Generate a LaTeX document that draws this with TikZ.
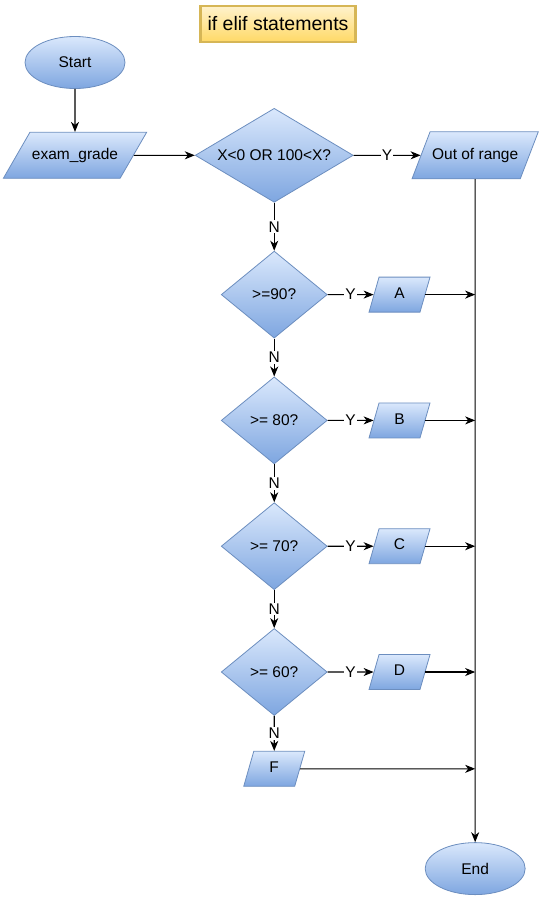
\documentclass[tikz,border=0pt]{standalone}
\usepackage{fontspec}
\setmainfont{Liberation Sans}
\usetikzlibrary{arrows.meta,positioning,shapes.geometric}

\definecolor{boxtop}{HTML}{DAE8FC}
\definecolor{boxbot}{HTML}{7EA6E0}
\definecolor{boxline}{HTML}{6C8EBF}
\definecolor{headtop}{HTML}{FFF2CC}
\definecolor{headbot}{HTML}{FFD966}
\definecolor{headline}{HTML}{D6B656}

\begin{document}
\begin{tikzpicture}[
  x=1pt,y=-1pt,
  font=\fontsize{15.5}{18}\selectfont,
  shaded/.style={draw=boxline,line width=0.8pt,top color=boxtop,bottom color=boxbot},
  terminal/.style={shaded,ellipse,minimum width=100pt,minimum height=52pt,inner sep=1pt},
  io/.style={shaded,trapezium,trapezium stretches body,text height=11pt,text depth=3.5pt,inner xsep=2pt},
  decision/.style={shaded,diamond,shape aspect=1.7,inner sep=0pt,minimum width=106pt,minimum height=87pt},
  heading/.style={draw=headline,line width=2.5pt,top color=headtop,bottom color=headbot,
    minimum width=155pt,minimum height=36pt,font=\fontsize{19.5}{22}\selectfont},
  flow/.style={draw,line width=1.1pt,-{Stealth[length=10pt,width=8pt,inset=3pt]}},
  answer/.style={fill=white,inner sep=1pt}
]
  \useasboundingbox (0,0) rectangle (539,898);

  \node[heading] (title) at (278,24) {if elif statements};

  \node[terminal] (start) at (75,62.5) {Start};
  \node[io,trapezium left angle=60,trapezium right angle=120,minimum width=134pt,inner ysep=15.75pt,
    below=43pt of start] (input) {exam\_grade};
  \node[decision,minimum width=158pt,minimum height=94pt,right=61pt of input] (range) {X<0 OR 100<X?};
  \node[io,trapezium left angle=69,trapezium right angle=111,minimum width=118pt,inner ysep=16.25pt,
    right=67pt of range] (outrange) {Out of range};

  \node[decision,below=48pt of range] (ge90) {>=90?};
  \node[decision,below=38pt of ge90] (ge80) {>= 80?};
  \node[decision,below=38pt of ge80] (ge70) {>= 70?};
  \node[decision,below=38pt of ge70] (ge60) {>= 60?};

  \tikzset{grade/.style={io,trapezium left angle=74,trapezium right angle=106,minimum width=61pt,inner ysep=10.25pt}}
  \node[grade,right=46pt of ge90] (gradeA) {A};
  \node[grade,right=46pt of ge80] (gradeB) {B};
  \node[grade,right=46pt of ge70] (gradeC) {C};
  \node[grade,right=46pt of ge60] (gradeD) {D};
  \node[grade,below=35pt of ge60] (gradeF) {F};

  \node[terminal,below=663pt of outrange] (stop) {End};

  % main path
  \draw[flow] (start) -- (input);
  \draw[flow] (input) -- (range);
  \draw[flow] (range) -- node[answer] {Y} (outrange);
  \draw[flow] (range) -- node[answer] {N} (ge90);
  \draw[flow] (ge90) -- node[answer] {N} (ge80);
  \draw[flow] (ge80) -- node[answer] {N} (ge70);
  \draw[flow] (ge70) -- node[answer] {N} (ge60);
  \draw[flow] (ge60) -- node[answer] {N} (gradeF);

  % yes branches
  \draw[flow] (ge90) -- node[answer] {Y} (gradeA);
  \draw[flow] (ge80) -- node[answer] {Y} (gradeB);
  \draw[flow] (ge70) -- node[answer] {Y} (gradeC);
  \draw[flow] (ge60) -- node[answer] {Y} (gradeD);

  % into the end line
  \draw[flow] (outrange) -- (stop);
  \foreach \g in {gradeA,gradeB,gradeC,gradeD,gradeF}
    \draw[flow] (\g) -- (\g -| stop);
\end{tikzpicture}
\end{document}
